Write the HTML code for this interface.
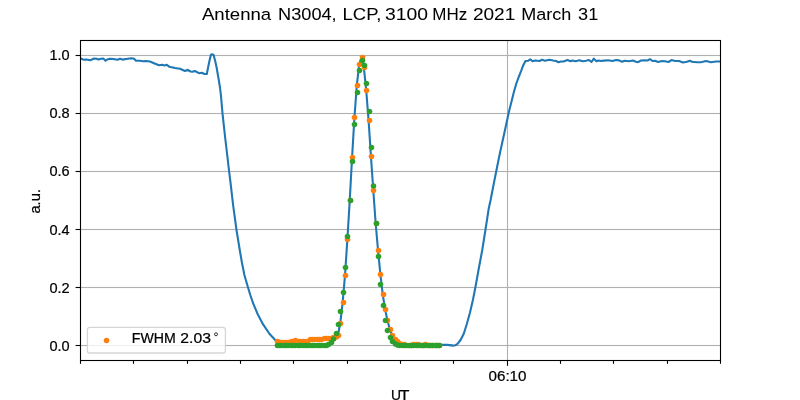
<!DOCTYPE html>
<html><head><meta charset="utf-8"><title>chart</title>
<style>html,body{margin:0;padding:0;background:#fff;}svg{display:block;}svg{will-change:transform;transform:translateZ(0);}</style>
</head><body>
<svg width="800" height="400" viewBox="0 0 800 400">
<rect x="0" y="0" width="800" height="400" fill="#fff"/>
<rect x="81" y="54.95" width="639.5" height="1.1" fill="#b0b0b0"/>
<rect x="81" y="112.95" width="639.5" height="1.1" fill="#b0b0b0"/>
<rect x="81" y="170.95" width="639.5" height="1.1" fill="#b0b0b0"/>
<rect x="81" y="228.95" width="639.5" height="1.1" fill="#b0b0b0"/>
<rect x="81" y="286.95" width="639.5" height="1.1" fill="#b0b0b0"/>
<rect x="81" y="344.95" width="639.5" height="1.1" fill="#b0b0b0"/>
<rect x="506.95" y="40.5" width="1.1" height="320" fill="#b0b0b0"/>
<rect x="75.6" y="54.95" width="4.9" height="1.1" fill="#000"/>
<rect x="75.6" y="112.95" width="4.9" height="1.1" fill="#000"/>
<rect x="75.6" y="170.95" width="4.9" height="1.1" fill="#000"/>
<rect x="75.6" y="228.95" width="4.9" height="1.1" fill="#000"/>
<rect x="75.6" y="286.95" width="4.9" height="1.1" fill="#000"/>
<rect x="75.6" y="344.95" width="4.9" height="1.1" fill="#000"/>
<rect x="79.95" y="360.5" width="1.1" height="3.3" fill="#000"/>
<rect x="132.95" y="360.5" width="1.1" height="3.3" fill="#000"/>
<rect x="186.95" y="360.5" width="1.1" height="3.3" fill="#000"/>
<rect x="239.95" y="360.5" width="1.1" height="3.3" fill="#000"/>
<rect x="292.95" y="360.5" width="1.1" height="3.3" fill="#000"/>
<rect x="346.95" y="360.5" width="1.1" height="3.3" fill="#000"/>
<rect x="399.95" y="360.5" width="1.1" height="3.3" fill="#000"/>
<rect x="452.95" y="360.5" width="1.1" height="3.3" fill="#000"/>
<rect x="559.95" y="360.5" width="1.1" height="3.3" fill="#000"/>
<rect x="612.95" y="360.5" width="1.1" height="3.3" fill="#000"/>
<rect x="666.95" y="360.5" width="1.1" height="3.3" fill="#000"/>
<rect x="719.95" y="360.5" width="1.1" height="3.3" fill="#000"/>
<rect x="506.95" y="360.5" width="1.1" height="5.3" fill="#000"/>
<defs><clipPath id="ax"><rect x="80" y="40" width="640" height="320"/></clipPath></defs>
<path d="M80.00,58.60 L81.00,58.50 L82.50,59.20 L84.00,59.80 L86.00,59.40 L88.00,59.80 L90.00,60.20 L92.00,59.50 L94.00,58.50 L96.50,58.80 L98.50,59.50 L101.00,58.80 L103.50,58.60 L105.50,60.70 L108.00,59.20 L110.00,58.70 L113.00,59.00 L117.50,59.80 L120.00,58.80 L122.50,59.60 L126.00,59.00 L131.50,58.30 L134.00,58.80 L136.00,60.80 L140.00,60.80 L143.00,61.20 L146.00,61.00 L150.00,61.50 L154.00,63.20 L159.00,65.20 L162.00,64.80 L164.50,65.50 L166.80,64.80 L169.50,66.80 L175.00,68.00 L180.00,68.80 L185.00,71.00 L187.80,69.80 L190.50,71.50 L192.50,71.80 L194.80,71.00 L199.00,73.20 L201.80,72.80 L204.50,74.00 L206.80,74.00 L209.00,63.00 L210.20,57.60 L211.10,54.50 L212.40,54.30 L213.60,55.00 L215.20,61.00 L216.70,68.00 L218.60,79.00 L220.00,87.50 L220.90,95.00 L222.50,113.40 L225.20,138.00 L227.50,157.50 L229.10,171.25 L230.50,182.50 L233.10,205.00 L236.50,230.00 L239.75,250.00 L241.90,262.50 L244.40,275.00 L248.10,287.80 L250.30,295.00 L253.00,303.00 L257.50,313.75 L263.10,324.40 L269.40,333.75 L275.00,339.75 L276.56,341.60 L278.92,342.60 L281.28,342.60 L283.64,342.60 L286.00,342.60 L288.36,342.60 L290.72,341.60 L293.08,341.60 L295.44,340.60 L297.80,341.60 L300.16,341.60 L302.52,341.60 L304.88,341.60 L307.24,341.60 L309.60,339.60 L311.96,339.60 L314.32,339.60 L316.68,339.60 L319.04,339.60 L321.40,339.60 L323.76,338.60 L326.12,338.60 L328.48,338.60 L330.84,338.60 L333.20,337.60 L335.56,337.10 L337.92,335.40 L340.28,323.20 L342.64,302.50 L345.00,275.40 L347.36,239.85 L349.72,200.50 L352.08,157.50 L354.44,117.35 L356.80,85.50 L359.16,64.50 L361.52,57.20 L363.88,67.60 L366.24,90.60 L368.60,120.50 L370.96,156.60 L373.32,190.70 L375.68,223.50 L378.04,250.50 L380.40,274.50 L382.76,294.50 L385.12,309.60 L387.48,320.40 L389.84,329.50 L392.20,335.70 L394.56,339.70 L396.92,341.70 L399.28,343.70 L401.64,344.70 L404.00,344.70 L406.36,345.70 L408.72,345.70 L411.08,345.70 L413.44,344.70 L415.80,344.70 L418.16,344.70 L420.52,345.70 L422.88,345.70 L425.24,344.70 L427.60,345.70 L429.96,345.80 L432.32,345.80 L434.68,345.80 L437.04,345.80 L439.40,345.80 L441.90,344.80 L447.50,344.90 L453.75,345.60 L455.50,345.20 L457.50,343.90 L460.60,340.00 L463.75,333.75 L466.90,323.75 L470.00,312.50 L472.90,300.00 L475.60,286.25 L478.75,268.75 L482.25,250.00 L485.50,229.50 L488.75,208.50 L490.60,200.00 L493.75,183.75 L496.25,171.25 L498.75,158.75 L500.60,150.00 L505.00,130.00 L508.75,112.50 L511.90,100.00 L513.75,92.50 L516.25,83.75 L518.75,76.90 L521.25,70.60 L523.10,65.60 L525.00,62.10 L525.50,61.00 L528.00,60.80 L530.30,59.30 L532.50,61.20 L535.00,60.50 L539.50,61.00 L542.00,59.80 L545.00,60.80 L549.50,59.70 L553.00,60.50 L556.00,61.00 L558.50,62.20 L561.00,61.50 L563.50,61.50 L567.50,60.00 L570.50,61.20 L572.50,60.60 L575.50,61.30 L579.50,60.30 L582.50,61.20 L586.00,60.70 L589.00,60.00 L591.50,62.00 L593.80,58.70 L596.50,61.30 L598.50,60.50 L601.00,61.00 L604.00,60.60 L608.00,60.20 L612.50,61.00 L616.00,60.00 L619.00,60.40 L622.00,61.80 L624.50,60.80 L629.00,61.20 L633.00,60.50 L636.00,61.80 L638.00,62.20 L641.00,60.50 L644.00,60.20 L647.50,60.50 L650.00,59.20 L652.50,61.00 L655.00,60.80 L658.00,62.00 L662.00,61.00 L665.00,61.20 L668.50,62.00 L671.50,60.10 L675.00,61.00 L679.00,61.00 L683.00,62.50 L687.00,61.80 L689.80,60.70 L692.00,61.80 L697.00,62.20 L701.00,62.20 L706.00,61.00 L711.00,62.20 L716.00,61.50 L720.50,61.50" fill="none" stroke="#1f77b4" stroke-width="2.08" stroke-linejoin="round" stroke-linecap="butt" clip-path="url(#ax)"/>
<g fill="#ff7f0e"><circle cx="277.5" cy="341.5" r="2.78"/><circle cx="279.5" cy="342.5" r="2.78"/><circle cx="281.5" cy="342.5" r="2.78"/><circle cx="284.5" cy="342.5" r="2.78"/><circle cx="286.5" cy="342.5" r="2.78"/><circle cx="288.5" cy="342.5" r="2.78"/><circle cx="291.5" cy="341.5" r="2.78"/><circle cx="293.5" cy="341.5" r="2.78"/><circle cx="295.5" cy="340.5" r="2.78"/><circle cx="298.5" cy="341.5" r="2.78"/><circle cx="300.5" cy="341.5" r="2.78"/><circle cx="303.5" cy="341.5" r="2.78"/><circle cx="305.5" cy="341.5" r="2.78"/><circle cx="307.5" cy="341.5" r="2.78"/><circle cx="310.5" cy="339.5" r="2.78"/><circle cx="312.5" cy="339.5" r="2.78"/><circle cx="314.5" cy="339.5" r="2.78"/><circle cx="317.5" cy="339.5" r="2.78"/><circle cx="319.5" cy="339.5" r="2.78"/><circle cx="321.5" cy="339.5" r="2.78"/><circle cx="324.5" cy="338.5" r="2.78"/><circle cx="326.5" cy="338.5" r="2.78"/><circle cx="328.5" cy="338.5" r="2.78"/><circle cx="331.5" cy="338.5" r="2.78"/><circle cx="333.5" cy="337.5" r="2.78"/><circle cx="336.5" cy="337.0" r="2.78"/><circle cx="338.5" cy="335.5" r="2.78"/><circle cx="340.5" cy="323.5" r="2.78"/><circle cx="343.5" cy="302.5" r="2.78"/><circle cx="345.5" cy="275.5" r="2.78"/><circle cx="347.5" cy="239.5" r="2.78"/><circle cx="350.5" cy="200.5" r="2.78"/><circle cx="352.5" cy="157.5" r="2.78"/><circle cx="354.5" cy="117.5" r="2.78"/><circle cx="357.5" cy="85.5" r="2.78"/><circle cx="359.5" cy="64.5" r="2.78"/><circle cx="362.5" cy="57.5" r="2.78"/><circle cx="364.5" cy="67.5" r="2.78"/><circle cx="366.5" cy="90.5" r="2.78"/><circle cx="369.5" cy="120.5" r="2.78"/><circle cx="371.5" cy="156.5" r="2.78"/><circle cx="373.5" cy="190.5" r="2.78"/><circle cx="376.5" cy="223.5" r="2.78"/><circle cx="378.5" cy="250.5" r="2.78"/><circle cx="380.5" cy="274.5" r="2.78"/><circle cx="383.5" cy="294.5" r="2.78"/><circle cx="385.5" cy="309.5" r="2.78"/><circle cx="387.5" cy="320.5" r="2.78"/><circle cx="390.5" cy="329.5" r="2.78"/><circle cx="392.5" cy="335.5" r="2.78"/><circle cx="395.5" cy="339.5" r="2.78"/><circle cx="397.5" cy="341.5" r="2.78"/><circle cx="399.5" cy="343.5" r="2.78"/><circle cx="402.5" cy="344.5" r="2.78"/><circle cx="404.5" cy="344.5" r="2.78"/><circle cx="406.5" cy="345.5" r="2.78"/><circle cx="409.5" cy="345.5" r="2.78"/><circle cx="411.5" cy="345.5" r="2.78"/><circle cx="413.5" cy="344.5" r="2.78"/><circle cx="416.5" cy="344.5" r="2.78"/><circle cx="418.5" cy="344.5" r="2.78"/><circle cx="421.5" cy="345.5" r="2.78"/><circle cx="423.5" cy="345.5" r="2.78"/><circle cx="425.5" cy="344.5" r="2.78"/><circle cx="428.5" cy="345.5" r="2.78"/><circle cx="430.5" cy="345.5" r="2.78"/><circle cx="432.5" cy="345.5" r="2.78"/><circle cx="435.5" cy="345.5" r="2.78"/><circle cx="437.5" cy="345.5" r="2.78"/><circle cx="439.5" cy="345.5" r="2.78"/></g>
<g fill="#2ca02c"><circle cx="277.5" cy="345.5" r="2.78"/><circle cx="279.5" cy="345.5" r="2.78"/><circle cx="281.5" cy="345.5" r="2.78"/><circle cx="284.5" cy="345.5" r="2.78"/><circle cx="286.5" cy="345.5" r="2.78"/><circle cx="288.5" cy="345.5" r="2.78"/><circle cx="291.5" cy="345.5" r="2.78"/><circle cx="293.5" cy="345.5" r="2.78"/><circle cx="295.5" cy="345.5" r="2.78"/><circle cx="298.5" cy="345.5" r="2.78"/><circle cx="300.5" cy="345.5" r="2.78"/><circle cx="303.5" cy="345.5" r="2.78"/><circle cx="305.5" cy="345.5" r="2.78"/><circle cx="307.5" cy="345.5" r="2.78"/><circle cx="310.5" cy="345.5" r="2.78"/><circle cx="312.5" cy="345.5" r="2.78"/><circle cx="314.5" cy="345.5" r="2.78"/><circle cx="317.5" cy="345.5" r="2.78"/><circle cx="319.5" cy="345.5" r="2.78"/><circle cx="321.5" cy="345.5" r="2.78"/><circle cx="324.5" cy="345.5" r="2.78"/><circle cx="326.5" cy="345.5" r="2.78"/><circle cx="328.5" cy="344.5" r="2.78"/><circle cx="331.5" cy="342.5" r="2.78"/><circle cx="333.5" cy="339.0" r="2.78"/><circle cx="336.5" cy="333.5" r="2.78"/><circle cx="338.5" cy="324.5" r="2.78"/><circle cx="340.5" cy="311.5" r="2.78"/><circle cx="343.5" cy="292.5" r="2.78"/><circle cx="345.5" cy="267.5" r="2.78"/><circle cx="347.5" cy="236.5" r="2.78"/><circle cx="350.5" cy="200.5" r="2.78"/><circle cx="352.5" cy="161.5" r="2.78"/><circle cx="354.5" cy="124.5" r="2.78"/><circle cx="357.5" cy="92.5" r="2.78"/><circle cx="359.5" cy="70.5" r="2.78"/><circle cx="362.5" cy="60.5" r="2.78"/><circle cx="364.5" cy="65.5" r="2.78"/><circle cx="366.5" cy="83.5" r="2.78"/><circle cx="369.5" cy="111.5" r="2.78"/><circle cx="371.5" cy="147.5" r="2.78"/><circle cx="373.5" cy="186.0" r="2.78"/><circle cx="376.5" cy="223.5" r="2.78"/><circle cx="378.5" cy="256.5" r="2.78"/><circle cx="380.5" cy="284.5" r="2.78"/><circle cx="383.5" cy="305.5" r="2.78"/><circle cx="385.5" cy="320.5" r="2.78"/><circle cx="387.5" cy="330.5" r="2.78"/><circle cx="390.5" cy="337.5" r="2.78"/><circle cx="392.5" cy="341.5" r="2.78"/><circle cx="395.5" cy="344.0" r="2.78"/><circle cx="397.5" cy="345.0" r="2.78"/><circle cx="399.5" cy="345.5" r="2.78"/><circle cx="402.5" cy="345.5" r="2.78"/><circle cx="404.5" cy="345.5" r="2.78"/><circle cx="406.5" cy="345.5" r="2.78"/><circle cx="409.5" cy="345.5" r="2.78"/><circle cx="411.5" cy="345.5" r="2.78"/><circle cx="413.5" cy="345.5" r="2.78"/><circle cx="416.5" cy="345.5" r="2.78"/><circle cx="418.5" cy="345.5" r="2.78"/><circle cx="421.5" cy="345.5" r="2.78"/><circle cx="423.5" cy="345.5" r="2.78"/><circle cx="425.5" cy="345.5" r="2.78"/><circle cx="428.5" cy="345.5" r="2.78"/><circle cx="430.5" cy="345.5" r="2.78"/><circle cx="432.5" cy="345.5" r="2.78"/><circle cx="435.5" cy="345.5" r="2.78"/><circle cx="437.5" cy="345.5" r="2.78"/><circle cx="439.5" cy="345.5" r="2.78"/></g>
<rect x="80.5" y="40.5" width="640" height="320" fill="none" stroke="#000" stroke-width="1.1"/>
<rect x="87.4" y="327.4" width="138" height="25.6" rx="2.6" ry="2.6" fill="#fff" fill-opacity="0.8" stroke="#ccc" stroke-opacity="0.8" stroke-width="1.3"/>
<circle cx="106.5" cy="340.5" r="2.78" fill="#ff7f0e"/>
<circle cx="216.0" cy="334.3" r="1.5" fill="none" stroke="#111" stroke-width="0.85"/>
<text x="201.98" y="19.85" font-size="17" textLength="69.21" lengthAdjust="spacingAndGlyphs" font-family="Liberation Sans, sans-serif" fill="#000" stroke="#000" stroke-width="0.04" id="t_title0">Antenna</text>
<text x="278.08" y="19.85" font-size="17" textLength="58.59" lengthAdjust="spacingAndGlyphs" font-family="Liberation Sans, sans-serif" fill="#000" stroke="#000" stroke-width="0.04" id="t_title1">N3004,</text>
<text x="342.57" y="19.85" font-size="17" textLength="38.75" lengthAdjust="spacingAndGlyphs" font-family="Liberation Sans, sans-serif" fill="#000" stroke="#000" stroke-width="0.04" id="t_title2">LCP,</text>
<text x="385.08" y="19.85" font-size="17" textLength="43.04" lengthAdjust="spacingAndGlyphs" font-family="Liberation Sans, sans-serif" fill="#000" stroke="#000" stroke-width="0.04" id="t_title3">3100</text>
<text x="432.33" y="19.85" font-size="17" textLength="34.93" lengthAdjust="spacingAndGlyphs" font-family="Liberation Sans, sans-serif" fill="#000" stroke="#000" stroke-width="0.04" id="t_title4">MHz</text>
<text x="472.91" y="19.85" font-size="17" textLength="42.44" lengthAdjust="spacingAndGlyphs" font-family="Liberation Sans, sans-serif" fill="#000" stroke="#000" stroke-width="0.04" id="t_title5">2021</text>
<text x="521.32" y="19.85" font-size="17" textLength="49.98" lengthAdjust="spacingAndGlyphs" font-family="Liberation Sans, sans-serif" fill="#000" stroke="#000" stroke-width="0.04" id="t_title6">March</text>
<text x="578.14" y="19.85" font-size="17" textLength="20.15" lengthAdjust="spacingAndGlyphs" font-family="Liberation Sans, sans-serif" fill="#000" stroke="#000" stroke-width="0.04" id="t_title7">31</text>
<text x="49.5" y="60.4" font-size="14.1" textLength="20.2" lengthAdjust="spacingAndGlyphs" font-family="Liberation Sans, sans-serif" fill="#000" stroke="#000" stroke-width="0.22" id="t_y10">1.0</text>
<text x="49.5" y="118.4" font-size="14.1" textLength="20.2" lengthAdjust="spacingAndGlyphs" font-family="Liberation Sans, sans-serif" fill="#000" stroke="#000" stroke-width="0.22" id="t_y08">0.8</text>
<text x="49.5" y="176.4" font-size="14.1" textLength="20.2" lengthAdjust="spacingAndGlyphs" font-family="Liberation Sans, sans-serif" fill="#000" stroke="#000" stroke-width="0.22" id="t_y06">0.6</text>
<text x="49.5" y="235.4" font-size="14.1" textLength="20.2" lengthAdjust="spacingAndGlyphs" font-family="Liberation Sans, sans-serif" fill="#000" stroke="#000" stroke-width="0.22" id="t_y04">0.4</text>
<text x="49.5" y="293.4" font-size="14.1" textLength="20.2" lengthAdjust="spacingAndGlyphs" font-family="Liberation Sans, sans-serif" fill="#000" stroke="#000" stroke-width="0.22" id="t_y02">0.2</text>
<text x="49.5" y="351.4" font-size="14.1" textLength="20.2" lengthAdjust="spacingAndGlyphs" font-family="Liberation Sans, sans-serif" fill="#000" stroke="#000" stroke-width="0.22" id="t_y00">0.0</text>
<text x="488.5" y="380.7" font-size="14.1" textLength="38.0" lengthAdjust="spacingAndGlyphs" font-family="Liberation Sans, sans-serif" fill="#000" stroke="#000" stroke-width="0.22" id="t_x">06:10</text>
<text x="390.95" y="399.7" font-size="14.1" textLength="10.0" lengthAdjust="spacingAndGlyphs" font-family="Liberation Sans, sans-serif" fill="#000" stroke="#000" stroke-width="0.22" id="t_u">U</text>
<text x="399.6" y="399.7" font-size="14.1" textLength="9.9" lengthAdjust="spacingAndGlyphs" font-family="Liberation Sans, sans-serif" fill="#000" stroke="#000" stroke-width="0.22" id="t_t">T</text>
<text x="131.8" y="342.8" font-size="14.1" textLength="44.0" lengthAdjust="spacingAndGlyphs" font-family="Liberation Sans, sans-serif" fill="#000" stroke="#000" stroke-width="0.22" id="t_leg">FWHM</text>
<text x="180.3" y="342.8" font-size="14.1" textLength="30.6" lengthAdjust="spacingAndGlyphs" font-family="Liberation Sans, sans-serif" fill="#000" stroke="#000" stroke-width="0.22" id="t_leg2">2.03</text>
<text transform="translate(40.1,213.6) rotate(-90)" font-size="14.1" textLength="24.6" lengthAdjust="spacingAndGlyphs" font-family="Liberation Sans, sans-serif" fill="#000" stroke="#000" stroke-width="0.22" id="t_au">a.u.</text>
</svg>
</body></html>
